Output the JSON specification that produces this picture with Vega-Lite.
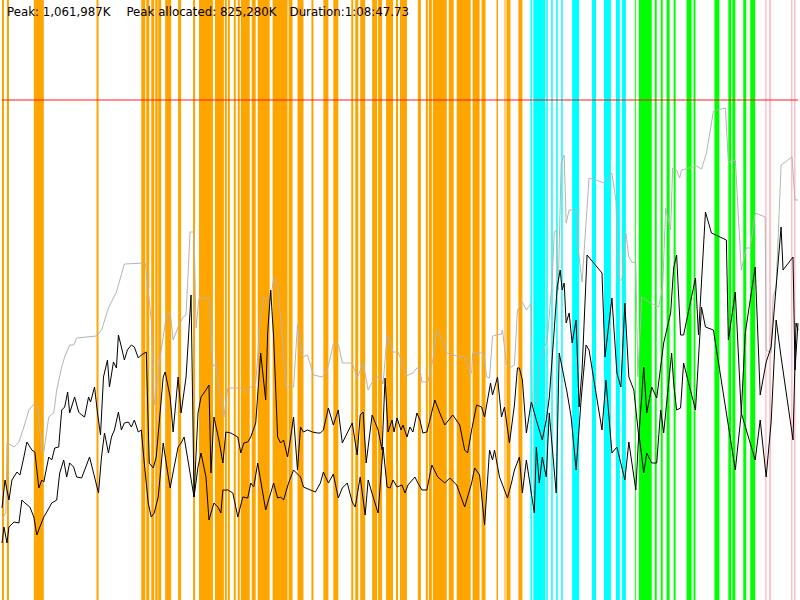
{
  "$schema": "https://vega.github.io/schema/vega-lite/v6.json",
  "width": 800,
  "height": 600,
  "autosize": {"type": "fit", "contains": "padding"},
  "padding": 0,
  "background": "white",
  "datasets": {
    "bars": [
      {"start": 0, "end": 2, "kind": "orange"}, {"start": 5, "end": 7, "kind": "orange"},
      {"start": 32, "end": 42, "kind": "orange"}, {"start": 95, "end": 97, "kind": "orange"},
      {"start": 140, "end": 144, "kind": "orange"}, {"start": 145, "end": 148, "kind": "orange"},
      {"start": 150, "end": 153, "kind": "orange"}, {"start": 154, "end": 156.5, "kind": "orange"},
      {"start": 157, "end": 160, "kind": "orange"}, {"start": 164, "end": 170, "kind": "orange"},
      {"start": 177, "end": 180, "kind": "orange"}, {"start": 192, "end": 194, "kind": "orange"},
      {"start": 198, "end": 212, "kind": "orange"}, {"start": 214, "end": 223, "kind": "orange"},
      {"start": 224, "end": 226, "kind": "orange"}, {"start": 227, "end": 229, "kind": "orange"},
      {"start": 233, "end": 235, "kind": "orange"}, {"start": 237, "end": 239, "kind": "orange"},
      {"start": 240, "end": 249, "kind": "orange"}, {"start": 251, "end": 255, "kind": "orange"},
      {"start": 257, "end": 269, "kind": "orange"}, {"start": 272, "end": 287, "kind": "orange"},
      {"start": 288, "end": 292, "kind": "orange"}, {"start": 297, "end": 303, "kind": "orange"},
      {"start": 311, "end": 313, "kind": "orange"}, {"start": 323, "end": 328, "kind": "orange"},
      {"start": 333, "end": 338, "kind": "orange"}, {"start": 351, "end": 353, "kind": "orange"},
      {"start": 355, "end": 358, "kind": "orange"}, {"start": 360, "end": 365, "kind": "orange"},
      {"start": 372, "end": 377, "kind": "orange"}, {"start": 378, "end": 382, "kind": "orange"},
      {"start": 386, "end": 393, "kind": "orange"}, {"start": 396, "end": 398, "kind": "orange"},
      {"start": 400, "end": 407, "kind": "orange"}, {"start": 418, "end": 421, "kind": "orange"},
      {"start": 426, "end": 428, "kind": "orange"}, {"start": 429, "end": 432, "kind": "orange"},
      {"start": 433, "end": 447, "kind": "orange"}, {"start": 449, "end": 454, "kind": "orange"},
      {"start": 457, "end": 471, "kind": "orange"}, {"start": 473, "end": 480, "kind": "orange"},
      {"start": 482, "end": 486, "kind": "orange"}, {"start": 497, "end": 498.5, "kind": "orange"},
      {"start": 505, "end": 506, "kind": "orange"}, {"start": 507, "end": 511, "kind": "orange"},
      {"start": 519, "end": 523, "kind": "orange"},
      {"start": 531, "end": 532.5, "kind": "cyan"}, {"start": 534, "end": 546, "kind": "cyan"},
      {"start": 547, "end": 548.5, "kind": "cyan"}, {"start": 552, "end": 553.5, "kind": "cyan"},
      {"start": 557, "end": 558.5, "kind": "cyan"}, {"start": 562, "end": 563.5, "kind": "cyan"},
      {"start": 573, "end": 580, "kind": "cyan"}, {"start": 593, "end": 597, "kind": "cyan"},
      {"start": 605, "end": 612, "kind": "cyan"}, {"start": 617, "end": 621, "kind": "cyan"},
      {"start": 623, "end": 627, "kind": "cyan"},
      {"start": 636, "end": 637, "kind": "green"}, {"start": 640, "end": 653, "kind": "green"},
      {"start": 656, "end": 658, "kind": "green"}, {"start": 662, "end": 664, "kind": "green"},
      {"start": 668, "end": 671, "kind": "green"}, {"start": 675, "end": 677, "kind": "green"},
      {"start": 688, "end": 693, "kind": "green"}, {"start": 695, "end": 697, "kind": "green"},
      {"start": 716, "end": 721, "kind": "green"}, {"start": 730, "end": 733, "kind": "green"},
      {"start": 734, "end": 737, "kind": "green"}, {"start": 745, "end": 748, "kind": "green"},
      {"start": 752, "end": 757, "kind": "green"},
      {"start": 767, "end": 768.5, "kind": "pink"}, {"start": 771, "end": 773, "kind": "pink"},
      {"start": 793, "end": 794.5, "kind": "pink"}, {"start": 796, "end": 797.5, "kind": "pink"}
    ],
    "limit": [{"y": 100}],
    "gray": [
      {"t": 0, "y": 520}, {"t": 4, "y": 512}, {"t": 5, "y": 443}, {"t": 12, "y": 447}, {"t": 17, "y": 442},
      {"t": 22, "y": 427}, {"t": 27, "y": 410}, {"t": 33, "y": 403}, {"t": 36, "y": 407}, {"t": 40, "y": 450},
      {"t": 42, "y": 452}, {"t": 47, "y": 417}, {"t": 52, "y": 413}, {"t": 55, "y": 390}, {"t": 60, "y": 367},
      {"t": 63, "y": 357}, {"t": 68, "y": 345}, {"t": 72, "y": 345}, {"t": 75, "y": 338}, {"t": 95, "y": 336},
      {"t": 100, "y": 330}, {"t": 107, "y": 308}, {"t": 115, "y": 292}, {"t": 123, "y": 264}, {"t": 144, "y": 263},
      {"t": 150, "y": 320}, {"t": 153, "y": 405}, {"t": 160, "y": 350}, {"t": 165, "y": 317}, {"t": 169, "y": 312},
      {"t": 172, "y": 340}, {"t": 177, "y": 327}, {"t": 182, "y": 317}, {"t": 185, "y": 315}, {"t": 189, "y": 232},
      {"t": 193, "y": 232}, {"t": 195, "y": 328}, {"t": 198, "y": 298}, {"t": 208, "y": 298}, {"t": 212, "y": 367},
      {"t": 215, "y": 363}, {"t": 218, "y": 387}, {"t": 223, "y": 417}, {"t": 227, "y": 388}, {"t": 240, "y": 388},
      {"t": 245, "y": 392}, {"t": 250, "y": 387}, {"t": 255, "y": 383}, {"t": 260, "y": 317}, {"t": 263, "y": 297},
      {"t": 270, "y": 300}, {"t": 273, "y": 278}, {"t": 277, "y": 285}, {"t": 282, "y": 340}, {"t": 285, "y": 387},
      {"t": 293, "y": 387}, {"t": 297, "y": 325}, {"t": 302, "y": 357}, {"t": 307, "y": 355}, {"t": 313, "y": 375},
      {"t": 322, "y": 377}, {"t": 327, "y": 370}, {"t": 333, "y": 344}, {"t": 338, "y": 344}, {"t": 342, "y": 363},
      {"t": 352, "y": 363}, {"t": 357, "y": 378}, {"t": 363, "y": 363}, {"t": 368, "y": 390}, {"t": 372, "y": 382},
      {"t": 380, "y": 375}, {"t": 383, "y": 384}, {"t": 387, "y": 335}, {"t": 390, "y": 343}, {"t": 393, "y": 352},
      {"t": 398, "y": 352}, {"t": 402, "y": 362}, {"t": 406, "y": 376}, {"t": 413, "y": 373}, {"t": 417, "y": 368},
      {"t": 420, "y": 368}, {"t": 422, "y": 382}, {"t": 428, "y": 382}, {"t": 433, "y": 360}, {"t": 437, "y": 330},
      {"t": 440, "y": 335}, {"t": 447, "y": 353}, {"t": 457, "y": 356}, {"t": 465, "y": 357}, {"t": 470, "y": 373},
      {"t": 472, "y": 373}, {"t": 473, "y": 353}, {"t": 483, "y": 353}, {"t": 485, "y": 360}, {"t": 487, "y": 377},
      {"t": 490, "y": 378}, {"t": 493, "y": 336}, {"t": 497, "y": 335}, {"t": 502, "y": 334}, {"t": 503, "y": 330},
      {"t": 507, "y": 365}, {"t": 512, "y": 367}, {"t": 515, "y": 365}, {"t": 518, "y": 310}, {"t": 523, "y": 302},
      {"t": 527, "y": 310}, {"t": 532, "y": 303}, {"t": 533, "y": 405}, {"t": 537, "y": 405}, {"t": 540, "y": 363},
      {"t": 543, "y": 353}, {"t": 548, "y": 340}, {"t": 553, "y": 280}, {"t": 555, "y": 232}, {"t": 557, "y": 230},
      {"t": 559, "y": 290}, {"t": 562, "y": 163}, {"t": 565, "y": 155}, {"t": 567, "y": 223}, {"t": 570, "y": 210},
      {"t": 577, "y": 210}, {"t": 578, "y": 240}, {"t": 583, "y": 282}, {"t": 590, "y": 178}, {"t": 597, "y": 180},
      {"t": 605, "y": 183}, {"t": 613, "y": 173}, {"t": 617, "y": 200}, {"t": 620, "y": 280}, {"t": 623, "y": 280},
      {"t": 627, "y": 233}, {"t": 630, "y": 257}, {"t": 633, "y": 262}, {"t": 637, "y": 263}, {"t": 639, "y": 377},
      {"t": 643, "y": 297}, {"t": 650, "y": 302}, {"t": 660, "y": 307}, {"t": 664, "y": 287}, {"t": 667, "y": 208},
      {"t": 672, "y": 230}, {"t": 674, "y": 168}, {"t": 678, "y": 170}, {"t": 681, "y": 178}, {"t": 683, "y": 170},
      {"t": 698, "y": 166}, {"t": 703, "y": 169}, {"t": 708, "y": 153}, {"t": 715, "y": 111}, {"t": 727, "y": 108},
      {"t": 730, "y": 162}, {"t": 737, "y": 160}, {"t": 743, "y": 270}, {"t": 748, "y": 248}, {"t": 752, "y": 248},
      {"t": 757, "y": 213}, {"t": 767, "y": 217}, {"t": 768, "y": 350}, {"t": 773, "y": 353}, {"t": 775, "y": 297},
      {"t": 778, "y": 287}, {"t": 783, "y": 165}, {"t": 794, "y": 157}, {"t": 797, "y": 200}, {"t": 800, "y": 200}
    ],
    "upper": [
      {"t": 0, "y": 508}, {"t": 3, "y": 480}, {"t": 7, "y": 500}, {"t": 10, "y": 480}, {"t": 15, "y": 472},
      {"t": 18, "y": 475}, {"t": 22, "y": 457}, {"t": 25, "y": 442}, {"t": 30, "y": 450}, {"t": 33, "y": 452},
      {"t": 37, "y": 488}, {"t": 40, "y": 480}, {"t": 42, "y": 482}, {"t": 47, "y": 457}, {"t": 50, "y": 460},
      {"t": 53, "y": 448}, {"t": 57, "y": 447}, {"t": 60, "y": 410}, {"t": 63, "y": 407}, {"t": 66, "y": 392},
      {"t": 68, "y": 413}, {"t": 73, "y": 397}, {"t": 77, "y": 412}, {"t": 80, "y": 415}, {"t": 83, "y": 417},
      {"t": 87, "y": 397}, {"t": 89, "y": 402}, {"t": 93, "y": 387}, {"t": 96, "y": 413}, {"t": 99, "y": 435},
      {"t": 102, "y": 377}, {"t": 106, "y": 360}, {"t": 108, "y": 387}, {"t": 112, "y": 362}, {"t": 115, "y": 368},
      {"t": 117, "y": 335}, {"t": 120, "y": 347}, {"t": 123, "y": 360}, {"t": 126, "y": 350}, {"t": 130, "y": 345},
      {"t": 133, "y": 347}, {"t": 137, "y": 358}, {"t": 140, "y": 355}, {"t": 145, "y": 352}, {"t": 148, "y": 463},
      {"t": 152, "y": 468}, {"t": 155, "y": 457}, {"t": 162, "y": 377}, {"t": 164, "y": 372}, {"t": 169, "y": 397},
      {"t": 172, "y": 432}, {"t": 177, "y": 377}, {"t": 180, "y": 413}, {"t": 185, "y": 377}, {"t": 190, "y": 295},
      {"t": 193, "y": 497}, {"t": 197, "y": 413}, {"t": 200, "y": 397}, {"t": 205, "y": 390}, {"t": 208, "y": 385},
      {"t": 210, "y": 473}, {"t": 213, "y": 417}, {"t": 218, "y": 440}, {"t": 222, "y": 463}, {"t": 225, "y": 432},
      {"t": 230, "y": 433}, {"t": 237, "y": 437}, {"t": 240, "y": 453}, {"t": 243, "y": 443}, {"t": 247, "y": 442},
      {"t": 250, "y": 437}, {"t": 255, "y": 423}, {"t": 260, "y": 353}, {"t": 265, "y": 400}, {"t": 267, "y": 333},
      {"t": 270, "y": 290}, {"t": 273, "y": 337}, {"t": 277, "y": 437}, {"t": 280, "y": 443}, {"t": 283, "y": 440},
      {"t": 287, "y": 457}, {"t": 290, "y": 438}, {"t": 293, "y": 417}, {"t": 297, "y": 470}, {"t": 300, "y": 427},
      {"t": 303, "y": 432}, {"t": 307, "y": 430}, {"t": 312, "y": 432}, {"t": 317, "y": 433}, {"t": 320, "y": 433},
      {"t": 323, "y": 430}, {"t": 328, "y": 408}, {"t": 333, "y": 425}, {"t": 338, "y": 410}, {"t": 342, "y": 443},
      {"t": 347, "y": 433}, {"t": 352, "y": 423}, {"t": 357, "y": 455}, {"t": 360, "y": 415}, {"t": 363, "y": 412},
      {"t": 366, "y": 463}, {"t": 372, "y": 415}, {"t": 378, "y": 430}, {"t": 382, "y": 450}, {"t": 385, "y": 378},
      {"t": 388, "y": 432}, {"t": 392, "y": 420}, {"t": 394, "y": 432}, {"t": 397, "y": 418}, {"t": 401, "y": 430},
      {"t": 403, "y": 425}, {"t": 407, "y": 437}, {"t": 410, "y": 427}, {"t": 413, "y": 432}, {"t": 417, "y": 413},
      {"t": 420, "y": 420}, {"t": 423, "y": 433}, {"t": 427, "y": 432}, {"t": 435, "y": 400}, {"t": 440, "y": 413},
      {"t": 445, "y": 425}, {"t": 453, "y": 415}, {"t": 460, "y": 425}, {"t": 465, "y": 450}, {"t": 468, "y": 453},
      {"t": 472, "y": 430}, {"t": 477, "y": 405}, {"t": 482, "y": 407}, {"t": 485, "y": 417}, {"t": 491, "y": 383},
      {"t": 493, "y": 395}, {"t": 498, "y": 377}, {"t": 502, "y": 417}, {"t": 505, "y": 407}, {"t": 510, "y": 443},
      {"t": 515, "y": 405}, {"t": 518, "y": 368}, {"t": 520, "y": 368}, {"t": 523, "y": 380}, {"t": 527, "y": 433},
      {"t": 532, "y": 402}, {"t": 537, "y": 420}, {"t": 543, "y": 440}, {"t": 547, "y": 420}, {"t": 550, "y": 398},
      {"t": 555, "y": 330}, {"t": 558, "y": 287}, {"t": 561, "y": 270}, {"t": 563, "y": 290}, {"t": 565, "y": 283},
      {"t": 567, "y": 323}, {"t": 570, "y": 313}, {"t": 573, "y": 343}, {"t": 577, "y": 320}, {"t": 580, "y": 407},
      {"t": 583, "y": 370}, {"t": 588, "y": 255}, {"t": 603, "y": 273}, {"t": 606, "y": 357}, {"t": 613, "y": 298},
      {"t": 618, "y": 373}, {"t": 622, "y": 387}, {"t": 626, "y": 303}, {"t": 630, "y": 377}, {"t": 635, "y": 390},
      {"t": 640, "y": 437}, {"t": 645, "y": 367}, {"t": 648, "y": 413}, {"t": 653, "y": 387}, {"t": 658, "y": 398},
      {"t": 665, "y": 343}, {"t": 672, "y": 313}, {"t": 675, "y": 268}, {"t": 678, "y": 255}, {"t": 682, "y": 335},
      {"t": 685, "y": 335}, {"t": 697, "y": 278}, {"t": 700, "y": 335}, {"t": 707, "y": 212}, {"t": 713, "y": 233},
      {"t": 728, "y": 240}, {"t": 730, "y": 340}, {"t": 737, "y": 292}, {"t": 743, "y": 413}, {"t": 747, "y": 333},
      {"t": 757, "y": 267}, {"t": 762, "y": 395}, {"t": 768, "y": 362}, {"t": 773, "y": 347}, {"t": 783, "y": 227},
      {"t": 785, "y": 270}, {"t": 795, "y": 257}, {"t": 797, "y": 370}, {"t": 800, "y": 323}
    ],
    "lower": [
      {"t": 0, "y": 543}, {"t": 2, "y": 527}, {"t": 5, "y": 543}, {"t": 7, "y": 527}, {"t": 12, "y": 522},
      {"t": 17, "y": 523}, {"t": 20, "y": 500}, {"t": 23, "y": 503}, {"t": 28, "y": 507}, {"t": 32, "y": 517},
      {"t": 35, "y": 535}, {"t": 38, "y": 527}, {"t": 42, "y": 517}, {"t": 45, "y": 512}, {"t": 50, "y": 503},
      {"t": 55, "y": 500}, {"t": 58, "y": 473}, {"t": 62, "y": 460}, {"t": 65, "y": 477}, {"t": 68, "y": 463},
      {"t": 72, "y": 467}, {"t": 75, "y": 477}, {"t": 80, "y": 478}, {"t": 85, "y": 465}, {"t": 88, "y": 457},
      {"t": 93, "y": 477}, {"t": 97, "y": 493}, {"t": 100, "y": 457}, {"t": 103, "y": 433}, {"t": 107, "y": 453},
      {"t": 110, "y": 437}, {"t": 113, "y": 430}, {"t": 117, "y": 412}, {"t": 120, "y": 430}, {"t": 123, "y": 423},
      {"t": 127, "y": 422}, {"t": 130, "y": 427}, {"t": 133, "y": 420}, {"t": 137, "y": 432}, {"t": 140, "y": 430},
      {"t": 143, "y": 463}, {"t": 147, "y": 503}, {"t": 150, "y": 517}, {"t": 153, "y": 513}, {"t": 157, "y": 497},
      {"t": 162, "y": 443}, {"t": 165, "y": 463}, {"t": 169, "y": 488}, {"t": 173, "y": 467}, {"t": 177, "y": 447},
      {"t": 180, "y": 443}, {"t": 183, "y": 437}, {"t": 193, "y": 497}, {"t": 197, "y": 467}, {"t": 200, "y": 453},
      {"t": 205, "y": 477}, {"t": 208, "y": 520}, {"t": 213, "y": 503}, {"t": 217, "y": 507}, {"t": 220, "y": 513},
      {"t": 222, "y": 490}, {"t": 227, "y": 490}, {"t": 232, "y": 493}, {"t": 237, "y": 517}, {"t": 242, "y": 497},
      {"t": 247, "y": 498}, {"t": 250, "y": 483}, {"t": 253, "y": 487}, {"t": 257, "y": 463}, {"t": 265, "y": 510},
      {"t": 273, "y": 483}, {"t": 277, "y": 498}, {"t": 280, "y": 497}, {"t": 283, "y": 500}, {"t": 288, "y": 483},
      {"t": 293, "y": 470}, {"t": 300, "y": 477}, {"t": 303, "y": 487}, {"t": 310, "y": 490}, {"t": 315, "y": 492},
      {"t": 320, "y": 483}, {"t": 323, "y": 472}, {"t": 328, "y": 483}, {"t": 333, "y": 474}, {"t": 338, "y": 498},
      {"t": 342, "y": 488}, {"t": 347, "y": 483}, {"t": 352, "y": 502}, {"t": 355, "y": 507}, {"t": 360, "y": 477},
      {"t": 365, "y": 515}, {"t": 368, "y": 480}, {"t": 373, "y": 497}, {"t": 378, "y": 513}, {"t": 383, "y": 447},
      {"t": 387, "y": 487}, {"t": 390, "y": 488}, {"t": 393, "y": 480}, {"t": 397, "y": 487}, {"t": 402, "y": 485},
      {"t": 405, "y": 493}, {"t": 408, "y": 485}, {"t": 415, "y": 477}, {"t": 418, "y": 483}, {"t": 422, "y": 490},
      {"t": 427, "y": 490}, {"t": 432, "y": 465}, {"t": 438, "y": 477}, {"t": 445, "y": 483}, {"t": 450, "y": 478},
      {"t": 457, "y": 485}, {"t": 465, "y": 507}, {"t": 472, "y": 483}, {"t": 475, "y": 468}, {"t": 480, "y": 475},
      {"t": 485, "y": 525}, {"t": 490, "y": 450}, {"t": 493, "y": 460}, {"t": 495, "y": 450}, {"t": 500, "y": 477},
      {"t": 505, "y": 490}, {"t": 508, "y": 498}, {"t": 512, "y": 483}, {"t": 515, "y": 470}, {"t": 520, "y": 457},
      {"t": 523, "y": 493}, {"t": 527, "y": 460}, {"t": 535, "y": 513}, {"t": 537, "y": 447}, {"t": 540, "y": 483},
      {"t": 543, "y": 457}, {"t": 547, "y": 477}, {"t": 550, "y": 413}, {"t": 557, "y": 493}, {"t": 560, "y": 353},
      {"t": 568, "y": 393}, {"t": 572, "y": 417}, {"t": 577, "y": 470}, {"t": 582, "y": 400}, {"t": 587, "y": 345},
      {"t": 590, "y": 350}, {"t": 603, "y": 430}, {"t": 607, "y": 380}, {"t": 613, "y": 453}, {"t": 618, "y": 447},
      {"t": 626, "y": 480}, {"t": 630, "y": 442}, {"t": 637, "y": 490}, {"t": 640, "y": 433}, {"t": 645, "y": 473},
      {"t": 648, "y": 453}, {"t": 653, "y": 463}, {"t": 658, "y": 463}, {"t": 662, "y": 410}, {"t": 665, "y": 433},
      {"t": 673, "y": 353}, {"t": 675, "y": 383}, {"t": 678, "y": 410}, {"t": 682, "y": 408}, {"t": 685, "y": 363},
      {"t": 697, "y": 410}, {"t": 703, "y": 307}, {"t": 707, "y": 327}, {"t": 715, "y": 330}, {"t": 728, "y": 413},
      {"t": 737, "y": 470}, {"t": 743, "y": 413}, {"t": 757, "y": 460}, {"t": 762, "y": 420}, {"t": 768, "y": 477},
      {"t": 773, "y": 422}, {"t": 778, "y": 320}, {"t": 783, "y": 357}, {"t": 795, "y": 440}, {"t": 798, "y": 323},
      {"t": 800, "y": 330}
    ],
    "labels": [
      {"t": 5, "label": "Peak: 1,061,987K"},
      {"t": 125, "label": "Peak allocated: 825,280K"},
      {"t": 289, "label": "Duration:1:08:47.73"}
    ]
  },
  "layer": [
    {
      "data": {"name": "bars"},
      "mark": {"type": "rect"},
      "encoding": {
        "x": {"field": "start", "type": "quantitative", "axis": null, "scale": {"domain": [0, 800], "nice": false, "zero": false}},
        "x2": {"field": "end"},
        "color": {
          "field": "kind", "type": "nominal", "legend": null,
          "scale": {"domain": ["orange", "cyan", "green", "pink"], "range": ["#ffa500", "#00ffff", "#00ff00", "#ffc0cb"]}
        }
      }
    },
    {
      "data": {"name": "limit"},
      "mark": {"type": "rule", "color": "#ff0000", "opacity": 0.6, "strokeWidth": 1.5},
      "encoding": {
        "y": {"field": "y", "type": "quantitative", "axis": null, "scale": {"domain": [0, 600], "reverse": true, "nice": false, "zero": false}}
      }
    },
    {
      "data": {"name": "gray"},
      "mark": {"type": "line", "color": "#b4b4b4", "strokeWidth": 1},
      "encoding": {
        "x": {"field": "t", "type": "quantitative", "axis": null},
        "y": {"field": "y", "type": "quantitative", "axis": null}
      }
    },
    {
      "data": {"name": "upper"},
      "mark": {"type": "line", "color": "#000000", "strokeWidth": 1},
      "encoding": {
        "x": {"field": "t", "type": "quantitative", "axis": null},
        "y": {"field": "y", "type": "quantitative", "axis": null}
      }
    },
    {
      "data": {"name": "lower"},
      "mark": {"type": "line", "color": "#000000", "strokeWidth": 1},
      "encoding": {
        "x": {"field": "t", "type": "quantitative", "axis": null},
        "y": {"field": "y", "type": "quantitative", "axis": null}
      }
    },
    {
      "data": {"name": "labels"},
      "mark": {"type": "text", "align": "left", "baseline": "middle", "font": "DejaVu Sans", "fontSize": 11.8, "color": "#000000"},
      "encoding": {
        "x": {"field": "t", "type": "quantitative", "axis": null},
        "y": {"datum": 12, "type": "quantitative"},
        "text": {"field": "label"}
      }
    }
  ],
  "config": {
    "view": {"stroke": null}
  }
}
